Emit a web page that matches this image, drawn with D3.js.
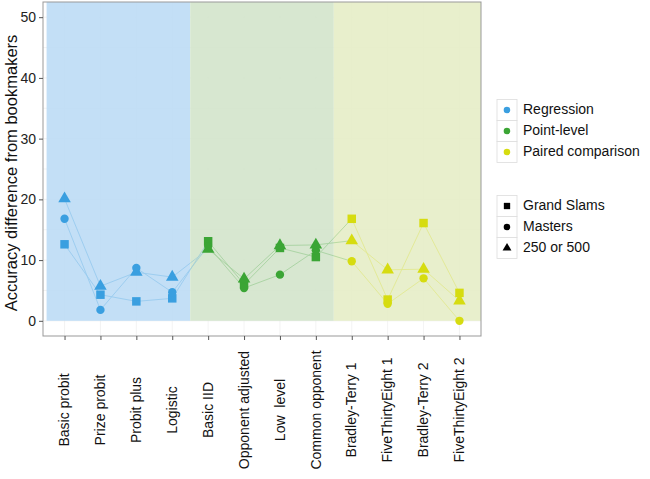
<!DOCTYPE html>
<html>
<head>
<meta charset="utf-8">
<script src="https://cdn.jsdelivr.net/npm/d3@7"></script>
<style>
  body { margin: 0; background: #fff; }
  text { font-family: "Liberation Sans", Arial, Helvetica, sans-serif; }
</style>
</head>
<body>
<div id="chart"></div>
<script>
// categories (models) and the family each belongs to
const models = [
  "Basic probit", "Prize probit", "Probit plus", "Logistic",
  "Basic IID", "Opponent adjusted", "Low  level", "Common opponent",
  "Bradley-Terry 1", "FiveThirtyEight 1", "Bradley-Terry 2", "FiveThirtyEight 2"
];
const families = ["Regression", "Point-level", "Paired comparison"];
const modelFamily = [
  "Regression", "Regression", "Regression", "Regression",
  "Point-level", "Point-level", "Point-level", "Point-level",
  "Paired comparison", "Paired comparison", "Paired comparison", "Paired comparison"
];
const tournaments = ["Grand Slams", "Masters", "250 or 500"];

// accuracy difference from bookmakers, per tournament level
const grandSlams = [12.6, 4.3, 3.2, 3.7, 13.1, 6.0, 12.0, 10.5, 16.8, 3.5, 16.1, 4.6];
const masters    = [16.8, 1.8, 8.7, 4.7, 12.3, 5.4, 7.6, 11.6, 9.8, 2.8, 7.0, 0.0];
const lowTier    = [20.1, 5.7, 8.0, 7.2, 11.8, 6.9, 12.4, 12.5, 13.2, 8.4, 8.5, 3.3];

const yTicks = [0, 10, 20, 30, 40, 50];

const pointColors = { "Regression": "#3a9fe0", "Point-level": "#3ba535", "Paired comparison": "#d6dc10" };
const bandColors  = { "Regression": "#bcdcf5", "Point-level": "#d3e4cb", "Paired comparison": "#e5edc6" };

const width = 650, height = 479;
const panel = { left: 43, right: 481, top: 2, bottom: 336 };

const svg = d3.select("#chart").append("svg")
  .attr("width", width).attr("height", height);

const x = d3.scalePoint().domain(models).range([panel.left, panel.right]).padding(0.6);
const y = d3.scaleLinear().domain([-2.5, 52.5]).range([panel.bottom, panel.top]);

const symbolOf = {
  "Grand Slams": d3.symbolSquare,
  "Masters": d3.symbolCircle,
  "250 or 500": d3.symbolTriangle
};
const plotSize = { "Grand Slams": 72, "Masters": 55, "250 or 500": 68 };
const keySize  = { "Grand Slams": 40, "Masters": 34, "250 or 500": 34 };

// panel background
svg.append("rect")
  .attr("x", panel.left).attr("y", panel.top)
  .attr("width", panel.right - panel.left).attr("height", panel.bottom - panel.top)
  .attr("fill", "#fff");

// grid
const grid = svg.append("g").attr("stroke", "#ebebeb").attr("stroke-width", 0.6);
d3.range(0, 55, 5).forEach(v => {
  grid.append("line")
    .attr("x1", panel.left).attr("x2", panel.right)
    .attr("y1", y(v)).attr("y2", y(v));
});
models.forEach(m => {
  grid.append("line")
    .attr("x1", x(m)).attr("x2", x(m))
    .attr("y1", panel.top).attr("y2", panel.bottom);
});

// family bands
const step = x.step();
families.forEach((f, i) => {
  const ms = models.filter((m, j) => modelFamily[j] === f);
  const x0 = x(ms[0]) - step / 2;
  const x1 = i === families.length - 1 ? panel.right : x(ms[ms.length - 1]) + step / 2;
  svg.append("rect")
    .attr("x", x0).attr("y", y(52.5))
    .attr("width", x1 - x0).attr("height", y(0) - y(52.5))
    .attr("fill", bandColors[f])
    .attr("opacity", 0.9);
});

// series
const series = [
  { name: "Grand Slams", values: grandSlams },
  { name: "Masters", values: masters },
  { name: "250 or 500", values: lowTier }
];

// connecting lines, each segment coloured by its starting point
const lines = svg.append("g").attr("stroke-width", 0.9).attr("opacity", 0.3);
series.forEach(s => {
  for (let i = 0; i < models.length - 1; i++) {
    lines.append("line")
      .attr("x1", x(models[i])).attr("y1", y(s.values[i]))
      .attr("x2", x(models[i + 1])).attr("y2", y(s.values[i + 1]))
      .attr("stroke", pointColors[modelFamily[i]]);
  }
});

// points
series.forEach(s => {
  svg.append("g")
    .selectAll("path")
    .data(s.values)
    .join("path")
    .attr("d", d3.symbol().type(symbolOf[s.name]).size(plotSize[s.name]))
    .attr("transform", (d, i) => `translate(${x(models[i])},${y(d)})`)
    .attr("fill", (d, i) => pointColors[modelFamily[i]]);
});

// panel border
svg.append("rect")
  .attr("x", panel.left).attr("y", panel.top)
  .attr("width", panel.right - panel.left).attr("height", panel.bottom - panel.top)
  .attr("fill", "none").attr("stroke", "#999").attr("stroke-width", 1);

// y axis
const yAxis = svg.append("g")
  .attr("transform", `translate(${panel.left},0)`)
  .call(d3.axisLeft(y).tickValues(yTicks).tickSize(4).tickPadding(3));
yAxis.select(".domain").remove();
yAxis.selectAll(".tick line").attr("stroke", "#555");
yAxis.selectAll("text").attr("font-size", 14).attr("fill", "#222")
  .attr("font-family", "'Liberation Sans', Arial, sans-serif");

svg.append("text")
  .attr("transform", `translate(13,${(panel.top + panel.bottom) / 2 + 4}) rotate(-90)`)
  .attr("text-anchor", "middle")
  .attr("dominant-baseline", "middle")
  .attr("font-size", 16.5)
  .attr("fill", "#111")
  .text("Accuracy difference from bookmakers");

// x axis
const xAxis = svg.append("g")
  .attr("transform", `translate(0,${panel.bottom})`)
  .call(d3.axisBottom(x).tickSize(4).tickFormat(""));
xAxis.select(".domain").remove();
xAxis.selectAll(".tick line").attr("stroke", "#555");

svg.append("g")
  .selectAll("text")
  .data(models)
  .join("text")
  .attr("transform", d => `translate(${x(d) + 1},410) rotate(-90)`)
  .attr("text-anchor", "middle")
  .attr("dominant-baseline", "middle")
  .attr("font-size", 14)
  .attr("fill", "#111")
  .style("white-space", "pre")
  .text(d => d);

// legends
const keyX = 497, keyW = 20, rowH = 21;

const colLegend = svg.append("g").attr("transform", "translate(0,99.5)");
families.forEach((f, i) => {
  const g = colLegend.append("g").attr("transform", `translate(${keyX},${i * rowH})`);
  g.append("rect").attr("width", keyW).attr("height", rowH)
    .attr("fill", "#fff").attr("stroke", "#ddd").attr("stroke-width", 0.8);
  g.append("path")
    .attr("d", d3.symbol().type(d3.symbolCircle).size(34))
    .attr("transform", `translate(${keyW / 2},${rowH / 2})`)
    .attr("fill", pointColors[f]);
  g.append("text")
    .attr("x", keyW + 6).attr("y", rowH / 2)
    .attr("dominant-baseline", "middle")
    .attr("font-size", 14).attr("fill", "#111")
    .text(f);
});

const shapeLegend = svg.append("g").attr("transform", "translate(0,195.5)");
tournaments.forEach((t, i) => {
  const g = shapeLegend.append("g").attr("transform", `translate(${keyX},${i * rowH})`);
  g.append("rect").attr("width", keyW).attr("height", rowH)
    .attr("fill", "#fff").attr("stroke", "#ddd").attr("stroke-width", 0.8);
  g.append("path")
    .attr("d", d3.symbol().type(symbolOf[t]).size(keySize[t]))
    .attr("transform", `translate(${keyW / 2},${rowH / 2})`)
    .attr("fill", "#000");
  g.append("text")
    .attr("x", keyW + 6).attr("y", rowH / 2)
    .attr("dominant-baseline", "middle")
    .attr("font-size", 14).attr("fill", "#111")
    .text(t);
});
</script>
</body>
</html>
